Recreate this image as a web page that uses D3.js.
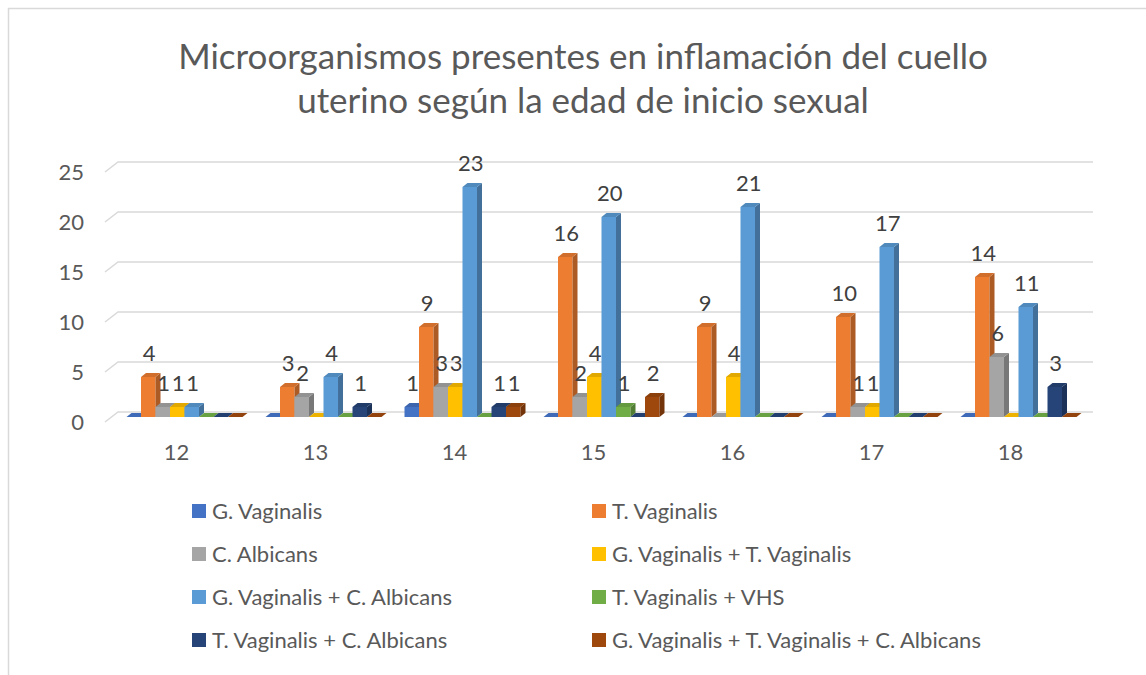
<!DOCTYPE html>
<html>
<head>
<meta charset="utf-8">
<script src="https://cdn.jsdelivr.net/npm/d3@7"></script>
<style>
  body { margin: 0; background: #fff; }
  svg { display: block; font-family: Lato, "Open Sans", sans-serif; }
</style>
</head>
<body>
<svg id="chart" width="1146" height="675"></svg>
<script>
// data
const categories = ["12", "13", "14", "15", "16", "17", "18"];
const seriesNames = [
  "G. Vaginalis", "T. Vaginalis", "C. Albicans", "G. Vaginalis + T. Vaginalis",
  "G. Vaginalis + C. Albicans", "T. Vaginalis + VHS", "T. Vaginalis + C. Albicans",
  "G. Vaginalis + T. Vaginalis + C. Albicans"
];
const gVaginalis   = [0, 0, 1, 0, 0, 0, 0];
const tVaginalis   = [4, 3, 9, 16, 9, 10, 14];
const cAlbicans    = [1, 2, 3, 2, 0, 1, 6];
const gvTv         = [1, 0, 3, 4, 4, 1, 0];
const gvCa         = [1, 4, 23, 20, 21, 17, 11];
const tvVhs        = [0, 0, 0, 1, 0, 0, 0];
const tvCa         = [0, 1, 1, 0, 0, 0, 3];
const gvTvCa       = [0, 0, 1, 2, 0, 0, 0];
const seriesValues = [gVaginalis, tVaginalis, cAlbicans, gvTv, gvCa, tvVhs, tvCa, gvTvCa];
const yTicks = [0, 5, 10, 15, 20, 25];
const colors = ["#4472C4", "#ED7D31", "#A5A5A5", "#FFC000", "#5B9BD5", "#70AD47", "#264478", "#9E480E"];

const svg = d3.select("#chart");
const textColor = "#595959";

// chart frame (right and bottom fall outside the picture)
svg.append("rect")
  .attr("x", 8.5).attr("y", 8.5).attr("width", 1160).attr("height", 700)
  .attr("fill", "none").attr("stroke", "#d9d9d9").attr("stroke-width", 1.5);

// title
svg.append("text")
  .attr("x", 583).attr("text-anchor", "middle")
  .attr("font-size", 35).attr("fill", textColor)
  .selectAll("tspan")
  .data(["Microorganismos presentes en inflamación del cuello", "uterino según la edad de inicio sexual"])
  .join("tspan")
  .attr("x", 583).attr("y", (d, i) => 69 + i * 44)
  .text(d => d);

// 3d depth offsets
const depthX = 13, depthY = -10;
const barDx = 5, barDy = -4;

const x = d3.scaleBand().domain(categories).range([107, 1080]);
const y = d3.scaleLinear().domain([0, 25]).range([422, 172]);
const x1 = d3.scaleBand().domain(d3.range(seriesNames.length)).range([0, 116]);

// gridlines: slanted side wall stub + back wall line
const grid = svg.append("g").attr("stroke", "#d9d9d9").attr("stroke-width", 1.5).attr("fill", "none");
grid.selectAll("path")
  .data(yTicks)
  .join("path")
  .attr("d", d => `M105,${y(d)}L${105 + depthX},${y(d) + depthY}L${1080 + depthX},${y(d) + depthY}`);

// y tick labels
svg.append("g")
  .attr("font-size", 22).attr("fill", textColor).attr("text-anchor", "end")
  .selectAll("text")
  .data(yTicks)
  .join("text")
  .attr("x", 84).attr("y", d => y(d) + 8)
  .text(d => d);

// category labels
svg.append("g")
  .attr("font-size", 22).attr("fill", textColor).attr("text-anchor", "middle")
  .selectAll("text")
  .data(categories)
  .join("text")
  .attr("x", d => x(d) + x.bandwidth() / 2).attr("y", 460)
  .text(d => d);

// bars
const bars = [];
categories.forEach((c, ci) => {
  seriesValues.forEach((vals, si) => {
    bars.push({ cat: c, s: si, v: vals[ci] });
  });
});

const midX = 6, midY = -5; // bars stand half way into the floor depth
const bw = x1.bandwidth();
const groupOffset = (x.bandwidth() - 116) / 2 + 2;

const barG = svg.append("g");
bars.forEach(b => {
  const x0 = x(b.cat) + groupOffset + x1(b.s) + midX;
  const yb = y(0) + midY;
  const yt = y(b.v) + midY;
  const col = colors[b.s];
  const g = barG.append("g");
  if (b.v > 0) {
    g.append("rect")
      .attr("x", x0).attr("y", yt).attr("width", bw).attr("height", yb - yt)
      .attr("fill", col);
    g.append("path")
      .attr("d", `M${x0 + bw},${yt}L${x0 + bw + barDx},${yt + barDy}L${x0 + bw + barDx},${yb + barDy}L${x0 + bw},${yb}Z`)
      .attr("fill", d3.color(col).darker(0.9));
  }
  g.append("path")
    .attr("d", `M${x0},${yt}L${x0 + barDx},${yt + barDy}L${x0 + bw + barDx},${yt + barDy}L${x0 + bw},${yt}Z`)
    .attr("fill", d3.color(col).darker(b.v > 0 ? 0.35 : 0.2));
});

// data labels
svg.append("g")
  .attr("font-size", 22).attr("fill", "#404040").attr("text-anchor", "middle")
  .selectAll("text")
  .data(bars.filter(b => b.v > 0))
  .join("text")
  .attr("x", b => x(b.cat) + groupOffset + x1(b.s) + midX + bw / 2 + 1)
  .attr("y", b => y(b.v) + midY + barDy - 12)
  .text(b => b.v);

// legend, two columns
const legend = svg.append("g").attr("font-size", 22).attr("fill", textColor);
const items = legend.selectAll("g")
  .data(seriesNames)
  .join("g")
  .attr("transform", (d, i) => `translate(${i % 2 === 0 ? 192 : 592},${511 + Math.floor(i / 2) * 43})`);
items.append("rect")
  .attr("x", 0).attr("y", -7).attr("width", 14).attr("height", 14)
  .attr("fill", (d, i) => colors[i]);
items.append("text")
  .attr("x", 20).attr("y", 8)
  .text(d => d);
</script>
</body>
</html>
